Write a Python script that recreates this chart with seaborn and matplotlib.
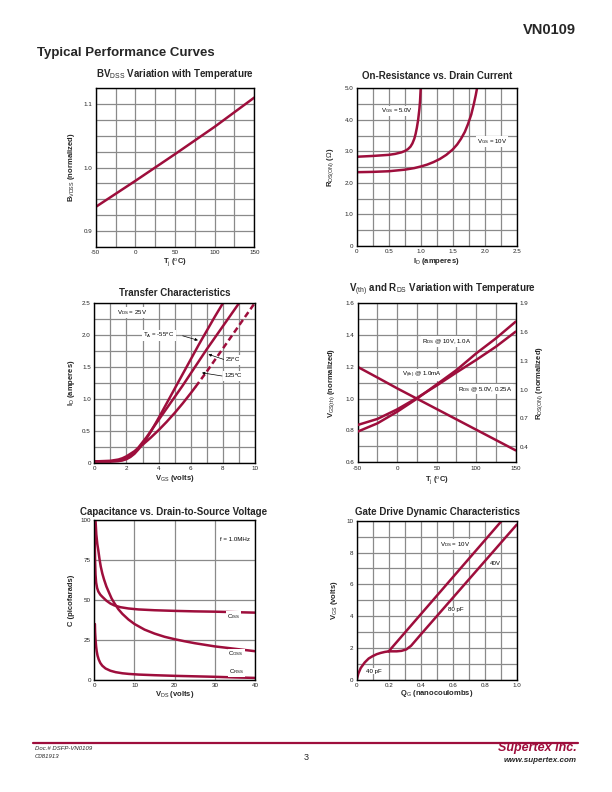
import numpy as np
import matplotlib
matplotlib.use('Agg')
import matplotlib.pyplot as plt
import seaborn as sns

# ---------------- data ----------------
# BVdss vs temperature
bv_temp = [-50, 0, 25, 50, 100, 150]
bv_norm = [0.938, 0.979, 1.0, 1.021, 1.064, 1.11]

# On-resistance vs drain current
ron_id_5v = [0, 0.25, 0.5, 0.6, 0.7, 0.75, 0.8, 0.84, 0.87, 0.9, 0.92, 0.94, 0.96, 0.98, 0.99, 1.0]
ron_r_5v = [2.83, 2.855, 2.89, 2.92, 2.97, 3.01, 3.07, 3.15, 3.25, 3.4, 3.55, 3.75, 4.0, 4.35, 4.6, 5.0]
ron_id_10v = [0, 0.25, 0.5, 0.75, 0.9, 1.0, 1.1, 1.2, 1.3, 1.4, 1.5, 1.57, 1.63, 1.69, 1.74,
              1.79, 1.83, 1.86, 1.88]
ron_r_10v = [2.34, 2.35, 2.37, 2.42, 2.47, 2.52, 2.58, 2.66, 2.76, 2.89, 3.06, 3.22, 3.4, 3.62,
             3.87, 4.17, 4.5, 4.78, 5.0]

# Transfer characteristics
tr_vgs_m55 = [0, 1, 1.5, 1.75, 2, 2.25, 2.5, 2.75, 3, 3.25, 3.5, 3.75, 4, 4.5, 5, 5.5, 6, 6.5,
              7, 7.5, 8]
tr_id_m55 = [0.02, 0.02, 0.025, 0.035, 0.055, 0.09, 0.14, 0.21, 0.29, 0.38, 0.48, 0.59, 0.7,
             0.93, 1.16, 1.39, 1.62, 1.85, 2.07, 2.29, 2.5]
tr_vgs_25 = [0, 1, 1.5, 1.75, 2, 2.25, 2.5, 2.75, 3, 3.25, 3.5, 3.75, 4, 4.5, 5, 5.5, 6, 6.5,
             7, 7.5, 8, 8.5, 9]
tr_id_25 = [0.02, 0.02, 0.03, 0.045, 0.07, 0.11, 0.17, 0.24, 0.32, 0.4, 0.49, 0.58, 0.67, 0.85,
            1.03, 1.21, 1.4, 1.59, 1.78, 1.96, 2.14, 2.32, 2.5]
tr_vgs_125 = [0, 1, 1.5, 1.75, 2, 2.25, 2.5, 2.75, 3, 3.5, 4, 4.5, 5, 5.5, 6, 6.3]
tr_id_125 = [0.02, 0.03, 0.05, 0.07, 0.1, 0.14, 0.18, 0.23, 0.28, 0.39, 0.51, 0.64, 0.78, 0.93,
             1.09, 1.19]
tr_vgs_125_dash = [6.3, 7, 8, 9, 10]
tr_id_125_dash = [1.19, 1.43, 1.79, 2.15, 2.51]

# Vth and Rds vs temperature
vt_temp = [-50, -25, 0, 25, 50, 75, 100, 125, 150]
vth_norm = [1.2, 1.133, 1.065, 1.0, 0.935, 0.87, 0.805, 0.74, 0.675]
rds_10v = [0.563, 0.649, 0.770, 0.906, 1.055, 1.204, 1.378, 1.535, 1.709]
rds_5v = [0.632, 0.695, 0.795, 0.914, 1.043, 1.179, 1.310, 1.448, 1.605]

# Capacitance vs VDS
ciss_v = [0.05, 0.1, 0.15, 0.2, 0.3, 0.45, 0.7, 1, 1.5, 2, 3, 4, 5, 6.5, 8.5, 11, 15, 20, 25,
          30, 35, 40]
ciss_c = [98, 90, 81, 74, 66, 61, 57.5, 55.3, 53.3, 52, 49.6, 47.8, 46.6, 45.5, 44.7, 44.1,
          43.6, 43.2, 42.9, 42.7, 42.4, 42.1]
coss_v = [0.3, 0.5, 0.75, 1, 1.3, 1.6, 2, 2.4, 3, 3.6, 4.3, 5, 6, 7, 8.5, 10, 12.5, 15, 17.5,
          20, 22.5, 25, 27.5, 30, 35, 40]
coss_c = [100, 91, 85, 81, 75.5, 71, 66.5, 63, 58.5, 55, 51, 48, 44.2, 41.3, 37.8, 35, 31.5, 29,
          27, 25.5, 24.2, 23, 22, 21, 19.5, 18]
crss_v = [0.15, 0.2, 0.3, 0.45, 0.6, 0.8, 1.1, 1.5, 2, 2.8, 4, 5.3, 7, 8.6, 11, 15, 20, 25, 30,
          35, 40]
crss_c = [35, 30, 25.5, 21, 18, 15.3, 12.8, 10.6, 8.9, 7.2, 5.8, 4.9, 4.2, 3.8, 3.4, 3.0, 2.6,
          2.3, 2.0, 1.6, 1.3]

# Gate drive dynamic characteristics
gd_q_start = [0, 0.01, 0.025, 0.05, 0.075, 0.1, 0.125, 0.15, 0.175, 0.2]
gd_v_start = [0, 0.4, 0.75, 1.1, 1.35, 1.5, 1.62, 1.7, 1.76, 1.8]
gd_q_10v = [0.2, 0.3, 0.4, 0.5, 0.6, 0.7, 0.8, 0.9, 0.907]
gd_v_10v = [1.8, 2.96, 4.12, 5.28, 6.44, 7.6, 8.76, 9.92, 10.0]
gd_q_40v = [0.2, 0.25, 0.28, 0.31, 0.34, 0.37, 0.4, 0.5, 0.6, 0.7, 0.8, 0.9, 1.0]
gd_v_40v = [1.8, 1.8, 1.83, 1.92, 2.15, 2.5, 2.85, 4.0, 5.15, 6.3, 7.45, 8.6, 9.75]

# ---------------- style ----------------
sns.set_theme(style='white')
plt.rcParams['font.family'] = ['Liberation Sans', 'DejaVu Sans']
plt.rcParams['mathtext.fontset'] = 'custom'
plt.rcParams['mathtext.rm'] = 'Liberation Sans'
plt.rcParams['mathtext.it'] = 'Liberation Sans:italic'
plt.rcParams['mathtext.bf'] = 'Liberation Sans:bold'

RED = '#9E0E3C'
GRID = '#8a8a8a'
LW = 1.8
W, H = 612, 792

fig = plt.figure(figsize=(6.12, 7.92), dpi=100)


def box(l, t, r, b):
    return [l / W, 1 - b / H, (r - l) / W, (b - t) / H]


def ftext(x, y, s, **kw):
    fig.text(x / W, 1 - y / H, s, **kw)


def style(ax, xlim, ylim, xmaj, xlab, ymaj, ylab, xmin=None, ymin=None):
    ax.set_xlim(xlim)
    ax.set_ylim(ylim)
    ax.set_xticks(xmaj)
    ax.set_xticklabels(xlab)
    ax.set_yticks(ymaj)
    ax.set_yticklabels(ylab)
    if xmin is not None:
        ax.set_xticks(xmin, minor=True)
    if ymin is not None:
        ax.set_yticks(ymin, minor=True)
    ax.grid(which='both', color=GRID, lw=0.9)
    ax.set_axisbelow(True)
    ax.tick_params(which='both', length=0, labelsize=4.5, pad=2.5, colors='#222222')
    for s in ax.spines.values():
        s.set_color('black')
        s.set_linewidth(1.0)


def labels(ax, xl, yl, ax_px, xoff, yoff):
    # ax_px = (width, height) of the axes in pixels; offsets in pixels
    ax.set_xlabel(xl, fontsize=5.5, fontweight='bold')
    ax.set_ylabel(yl, fontsize=5.5, fontweight='bold')
    ax.xaxis.set_label_coords(0.5, -xoff / ax_px[1])
    ax.xaxis.label.set_va('center')
    ax.yaxis.set_label_coords(-yoff / ax_px[0], 0.5)
    ax.yaxis.label.set_va('center')


def curve(ax, x, y, **kw):
    sns.lineplot(x=x, y=y, ax=ax, color=RED, lw=LW, sort=False,
                 estimator=None, legend=False, **kw)


TK = dict(fontsize=4.4, color='black')
WB = dict(fc='white', ec='none', pad=0.6)

# ---- 1. BVdss ----
ax1 = fig.add_axes(box(95.7, 88, 254.3, 247))
curve(ax1, bv_temp, bv_norm)
style(ax1, (-50, 150), (0.875, 1.125),
      [-50, 0, 50, 100, 150], ['-50', '0', '50', '100', '150'],
      [0.9, 1.0, 1.1], ['0.9', '1.0', '1.1'],
      xmin=np.arange(-50, 151, 25), ymin=np.arange(0.875, 1.126, 0.025))
labels(ax1, r'T$_{\mathrm{j}}$ ($^{\mathrm{o}}$C)', r'B$_{\mathrm{VDSS}}$ (normalized)',
       (158.6, 159), 14.7, 24)
ftext(175, 74, r'BV$_{\mathrm{DSS}}$ Variation with Temperature',
      fontsize=7, fontweight='bold', ha='center', va='center')

# ---- 2. On-resistance ----
ax2 = fig.add_axes(box(356.7, 88.3, 516.7, 246))
curve(ax2, ron_id_5v, ron_r_5v)
curve(ax2, ron_id_10v, ron_r_10v)
style(ax2, (0, 2.5), (0, 5),
      [0, 0.5, 1.0, 1.5, 2.0, 2.5], ['0', '0.5', '1.0', '1.5', '2.0', '2.5'],
      [0, 1, 2, 3, 4, 5], ['0', '1.0', '2.0', '3.0', '4.0', '5.0'],
      xmin=np.arange(0, 2.51, 0.25), ymin=np.arange(0, 5.01, 0.5))
labels(ax2, r'I$_{\mathrm{D}}$ (amperes)', r'R$_{\mathrm{DS(ON)}}$ ($\Omega$)',
       (160, 157.7), 15.7, 25.7)
ax2.text(0.38, 4.28, r'V$_{\mathrm{GS}}$ = 5.0V', va='center', bbox=WB, **TK)
ax2.text(1.875, 3.31, r'V$_{\mathrm{GS}}$ = 10V', va='center', bbox=WB, **TK)
ftext(437, 76, 'On-Resistance vs. Drain Current',
      fontsize=7, fontweight='bold', ha='center', va='center')

# ---- 3. Transfer characteristics ----
ax3 = fig.add_axes(box(94.3, 303.3, 255, 462.7))
curve(ax3, tr_vgs_m55, tr_id_m55)
curve(ax3, tr_vgs_25, tr_id_25)
curve(ax3, tr_vgs_125, tr_id_125)
curve(ax3, tr_vgs_125_dash, tr_id_125_dash, linestyle=(0, (2.4, 1.4)))
style(ax3, (0, 10), (0, 2.5),
      [0, 2, 4, 6, 8, 10], ['0', '2', '4', '6', '8', '10'],
      [0, 0.5, 1.0, 1.5, 2.0, 2.5], ['0', '0.5', '1.0', '1.5', '2.0', '2.5'],
      xmin=np.arange(0, 10.1, 1), ymin=np.arange(0, 2.51, 0.25))
labels(ax3, r'V$_{\mathrm{GS}}$ (volts)', r'I$_{\mathrm{D}}$ (amperes)',
       (160.7, 159.4), 15.6, 22.6)
arr = dict(arrowstyle='-|>', color='black', lw=0.5, mutation_scale=4, shrinkA=0, shrinkB=0)
ax3.text(1.4, 2.36, r'V$_{\mathrm{DS}}$ = 25V', va='center', bbox=WB, **TK)
ax3.text(3.05, 1.99, r'T$_{\mathrm{A}}$ = -55$^{\mathrm{o}}$C', va='center', bbox=WB, **TK)
ax3.annotate('', xy=(6.45, 1.92), xytext=(5.5, 1.99), arrowprops=arr)
ax3.text(8.15, 1.61, r'25$^{\mathrm{o}}$C', va='center', bbox=WB, **TK)
ax3.annotate('', xy=(7.1, 1.70), xytext=(8.05, 1.62), arrowprops=arr)
ax3.text(8.05, 1.36, r'125$^{\mathrm{o}}$C', va='center', bbox=WB, **TK)
ax3.annotate('', xy=(6.7, 1.41), xytext=(7.95, 1.36), arrowprops=arr)
ftext(175, 293.3, 'Transfer Characteristics',
      fontsize=7, fontweight='bold', ha='center', va='center')

# ---- 4. Vth and Rds vs temperature ----
ax4 = fig.add_axes(box(357.7, 303.3, 515.7, 462.3))
curve(ax4, vt_temp, vth_norm)
style(ax4, (-50, 150), (0.6, 1.6),
      [-50, 0, 50, 100, 150], ['-50', '0', '50', '100', '150'],
      [0.6, 0.8, 1.0, 1.2, 1.4, 1.6], ['0.6', '0.8', '1.0', '1.2', '1.4', '1.6'],
      xmin=np.arange(-50, 151, 25), ymin=np.arange(0.6, 1.61, 0.1))
labels(ax4, r'T$_{\mathrm{j}}$ ($^{\mathrm{o}}$C)', r'V$_{\mathrm{GS(th)}}$ (normalized)',
       (158, 159), 17.7, 26)
ax4.text(31, 1.36, r'R$_{\mathrm{DS}}$ @ 10V, 1.0A', va='center', bbox=WB, zorder=1.5, **TK)
ax4.text(5.7, 1.15, r'V$_{\mathrm{(th)}}$ @ 1.0mA', va='center', bbox=WB, zorder=1.5, **TK)
ax4.text(145, 1.06, r'R$_{\mathrm{DS}}$ @ 5.0V, 0.25A', ha='right', va='center',
         bbox=WB, zorder=1.5, **TK)
ax4r = ax4.twinx()
curve(ax4r, vt_temp, rds_10v)
curve(ax4r, vt_temp, rds_5v)
ax4r.set_ylim(0.243, 1.9)
ax4r.set_yticks([0.4, 0.7, 1.0, 1.3, 1.6, 1.9])
ax4r.set_yticklabels(['0.4', '0.7', '1.0', '1.3', '1.6', '1.9'])
ax4r.tick_params(length=0, labelsize=4.5, pad=3, colors='#222222')
ax4r.grid(False)
ax4r.patch.set_visible(False)
for s in ax4r.spines.values():
    s.set_visible(False)
ax4r.set_ylabel(r'R$_{\mathrm{DS(ON)}}$ (normalized)', fontsize=5.5, fontweight='bold',
                rotation=90)
ax4r.yaxis.set_label_coords(1 + 24 / 158, 0.5)
ax4r.yaxis.label.set_va('center')
ftext(442, 289.3, r'V$_{\mathrm{(th)}}$ and R$_{\mathrm{DS}}$ Variation with Temperature',
      fontsize=7, fontweight='bold', ha='center', va='center')

# ---- 5. Capacitance ----
ax5 = fig.add_axes(box(94.3, 520, 255, 680))
curve(ax5, ciss_v, ciss_c)
curve(ax5, coss_v, coss_c)
curve(ax5, crss_v, crss_c)
style(ax5, (0, 40), (0, 100),
      [0, 10, 20, 30, 40], ['0', '10', '20', '30', '40'],
      [0, 25, 50, 75, 100], ['0', '25', '50', '75', '100'])
labels(ax5, r'V$_{\mathrm{DS}}$ (volts)', 'C (picofarads)',
       (160.7, 160), 15, 22.6)
ax5.text(38.8, 88, 'f = 1.0MHz', ha='right', va='center', bbox=WB, **TK)
ax5.text(33.0, 39.6, r'C$_{\mathrm{ISS}}$', va='center', bbox=WB, **TK)
ax5.text(33.4, 16.3, r'C$_{\mathrm{OSS}}$', va='center', bbox=WB, **TK)
ax5.text(33.6, 5.2, r'C$_{\mathrm{RSS}}$', va='center', bbox=WB, **TK)
ftext(174, 511.7, 'Capacitance vs. Drain-to-Source Voltage',
      fontsize=7, fontweight='bold', ha='center', va='center')

# ---- 6. Gate drive ----
ax6 = fig.add_axes(box(356.7, 520.7, 516.7, 680))
curve(ax6, gd_q_start, gd_v_start)
curve(ax6, gd_q_10v, gd_v_10v)
curve(ax6, gd_q_40v, gd_v_40v)
style(ax6, (0, 1.0), (0, 10),
      [0, 0.2, 0.4, 0.6, 0.8, 1.0], ['0', '0.2', '0.4', '0.6', '0.8', '1.0'],
      [0, 2, 4, 6, 8, 10], ['0', '2', '4', '6', '8', '10'],
      xmin=np.arange(0, 1.01, 0.1), ymin=np.arange(0, 10.1, 1))
labels(ax6, r'Q$_{\mathrm{G}}$ (nanocoulombs)', r'V$_{\mathrm{GS}}$ (volts)',
       (160, 159.3), 13.3, 21.7)
ax6.text(0.52, 8.5, r'V$_{\mathrm{DS}}$ = 10V', va='center', bbox=WB, **TK)
ax6.text(0.83, 7.3, '40V', va='center', bbox=WB, **TK)
ax6.text(0.57, 4.4, '80 pF', va='center', bbox=WB, **TK)
ax6.text(0.06, 0.56, '40 pF', va='center', bbox=WB, **TK)
ftext(437.5, 511.7, 'Gate Drive Dynamic Characteristics',
      fontsize=7, fontweight='bold', ha='center', va='center')

# ---------------- page header / footer ----------------
ftext(576, 30, 'VN0109', fontsize=10.5, fontweight='bold', ha='right', va='center')
ftext(37, 53, 'Typical Performance Curves', fontsize=9.5, fontweight='bold',
      ha='left', va='center')
fig.add_artist(plt.Line2D([33 / W, 578 / W], [1 - 743 / H, 1 - 743 / H],
                          color=RED, lw=1.6))
ftext(35, 749, 'Doc.# DSFP-VN0109', fontsize=4.3, style='italic', va='center')
ftext(35, 757, 'C081913', fontsize=4.3, style='italic', va='center')
ftext(306, 758, '3', fontsize=6.5, ha='center', va='center')
ftext(577, 748, 'Supertex inc.', fontsize=9, fontweight='bold', style='italic',
      color=RED, ha='right', va='center')
ftext(577, 760.5, 'www.supertex.com', fontsize=5.8, fontweight='bold',
      style='italic', ha='right', va='center')

fig.savefig('out.png', dpi=100, facecolor='white')
